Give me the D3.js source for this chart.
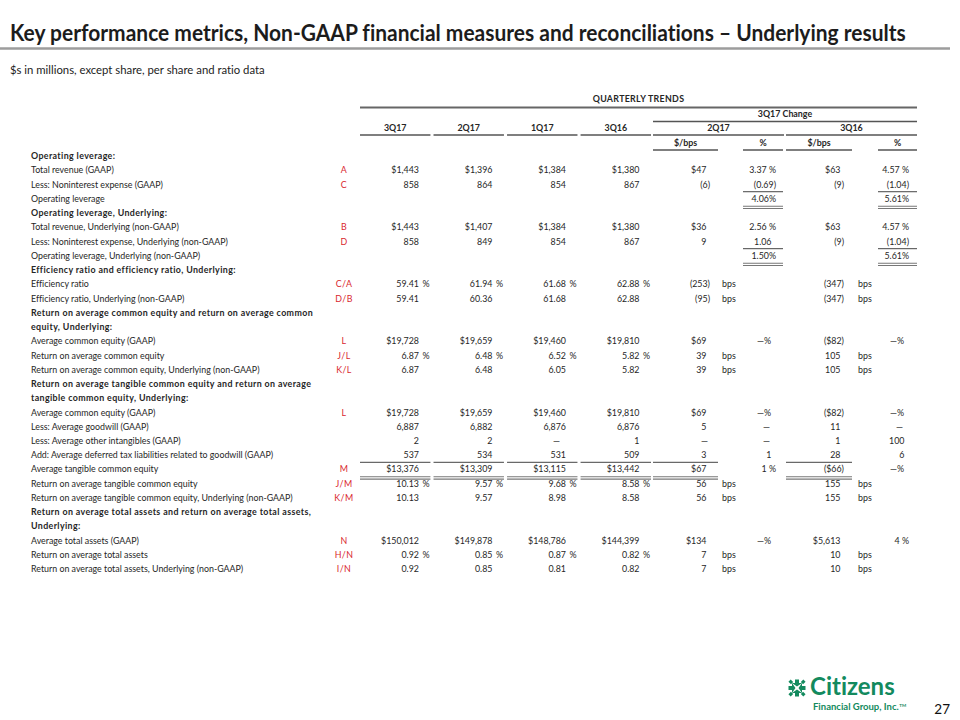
<!DOCTYPE html>
<html><head><meta charset="utf-8">
<script src="https://cdn.jsdelivr.net/npm/d3@7"></script>
<style>html,body{margin:0;padding:0;background:#fff;} svg{display:block} text{font-variant-ligatures:none;font-feature-settings:"liga" 0,"clig" 0;}</style>
</head><body>
<svg id="c" width="960" height="720"></svg>
<script>
// ---------------- DATA ----------------
const titleText = "Key performance metrics, Non-GAAP financial measures and reconciliations \u2013 Underlying results";
const subtitleText = "$s in millions, except share, per share and ratio data";
const quarterHeaders = ["3Q17","2Q17","1Q17","3Q16"];
const changeHeaders = ["2Q17","3Q16"];
const subHeaders = ["$/bps","%","$/bps","%"];

const rowLabels = [
"Operating leverage:",
"Total revenue (GAAP)",
"Less: Noninterest expense (GAAP)",
"Operating leverage",
"Operating leverage, Underlying:",
"Total revenue, Underlying (non-GAAP)",
"Less: Noninterest expense, Underlying (non-GAAP)",
"Operating leverage, Underlying (non-GAAP)",
"Efficiency ratio and efficiency ratio, Underlying:",
"Efficiency ratio",
"Efficiency ratio, Underlying (non-GAAP)",
"Return on average common equity and return on average common",
"equity, Underlying:",
"Average common equity (GAAP)",
"Return on average common equity",
"Return on average common equity, Underlying (non-GAAP)",
"Return on average tangible common equity and return on average",
"tangible common equity, Underlying:",
"Average common equity (GAAP)",
"Less: Average goodwill (GAAP)",
"Less: Average other intangibles (GAAP)",
"Add: Average deferred tax liabilities related to goodwill (GAAP)",
"Average tangible common equity",
"Return on average tangible common equity",
"Return on average tangible common equity, Underlying (non-GAAP)",
"Return on average total assets and return on average total assets,",
"Underlying:",
"Average total assets (GAAP)",
"Return on average total assets",
"Return on average total assets, Underlying (non-GAAP)"];
const sectionHeader = [1,0,0,0,1,0,0,0,1,0,0,1,1,0,0,0,1,1,0,0,0,0,0,0,0,1,1,0,0,0];
const rowRefs = ["","A","C","","","B","D","","","C/A","D/B","","","L","J/L","K/L","","","L","","","","M","J/M","K/M","","","N","H/N","I/N"];

const q3_17 = ["","$1,443","858","","","$1,443","858","","","59.41 %","59.41","","","$19,728","6.87 %","6.87","","","$19,728","6,887","2","537","$13,376","10.13 %","10.13","","","$150,012","0.92 %","0.92"];
const q2_17 = ["","$1,396","864","","","$1,407","849","","","61.94 %","60.36","","","$19,659","6.48 %","6.48","","","$19,659","6,882","2","534","$13,309","9.57 %","9.57","","","$149,878","0.85 %","0.85"];
const q1_17 = ["","$1,384","854","","","$1,384","854","","","61.68 %","61.68","","","$19,460","6.52 %","6.05","","","$19,460","6,876","\u2014","531","$13,115","9.68 %","8.98","","","$148,786","0.87 %","0.81"];
const q3_16 = ["","$1,380","867","","","$1,380","867","","","62.88 %","62.88","","","$19,810","5.82 %","5.82","","","$19,810","6,876","1","509","$13,442","8.58 %","8.58","","","$144,399","0.82 %","0.82"];
const chgVs2Q17 = ["","$47","(6)","","","$36","9","","","(253)","(95)","","","$69","39","39","","","$69","5","\u2014","3","$67","56","56","","","$134","7","7"];
const chgVs2Q17Pct = ["","3.37 %","(0.69)","4.06%","","2.56 %","1.06","1.50%","","","","","","\u2014%","","","","","\u2014%","\u2014","\u2014","1","1 %","","","","","\u2014%","",""];
const chgVs3Q16 = ["","$63","(9)","","","$63","(9)","","","(347)","(347)","","","($82)","105","105","","","($82)","11","1","28","($66)","155","155","","","$5,613","10","10"];
const chgVs3Q16Pct = ["","4.57 %","(1.04)","5.61%","","4.57 %","(1.04)","5.61%","","","","","","\u2014%","","","","","\u2014%","\u2014","100","6","\u2014%","","","","","4 %","",""];
const bpsRows = [0,0,0,0,0,0,0,0,0,1,1,0,0,0,1,1,0,0,0,0,0,0,0,1,1,0,0,0,1,1];

// ---------------- SETUP ----------------
const svg = d3.select("#c");
const FONT = "Lato, 'Liberation Sans', Arial, sans-serif";
const INK = "#262626", RED = "#d9262e", GREEN = "#138a5e", RULE = "#555";

function measure(str, size, weight){
  const t = svg.append("text").attr("font-family",FONT).attr("font-size",size).attr("font-weight",weight).text(str);
  const w = t.node().getComputedTextLength(); t.remove(); return w;
}
// text squeezed horizontally to a target width (keeps glyph height)
function fitText(str, x, yy, size, weight, width, fill){
  const w = measure(str, size, weight);
  const k = Math.min(1, width / w);
  return svg.append("text").attr("transform",`translate(${x},${yy}) scale(${k},1)`)
    .attr("font-family",FONT).attr("font-size",size).attr("font-weight",weight).attr("fill",fill).text(str);
}
let BODY = 9 * 262 / measure("Return on average tangible common equity, Underlying (non-GAAP)", 9, 400);
BODY = Math.max(7.8, Math.min(10, BODY));
const bw = measure("Return on average common equity and return on average common", BODY, 700);
const LS = Math.max(0, (282 - bw) / 60);

// Title
fitText(titleText, 10, 41, 23, 700, 896, "#1c1c1c");
svg.append("line").attr("x1",0).attr("x2",950).attr("y1",48.5).attr("y2",48.5).attr("stroke","#9d9d9d").attr("stroke-width",2.5);
fitText(subtitleText, 10, 74, 11.5, 400, 255, "#1c1c1c");

// ---------------- SCALES ----------------
const y = d3.scalePoint().domain(d3.range(rowLabels.length)).range([156, 569]);
const qx = d3.scaleBand().domain(quarterHeaders).range([360, 651]).paddingInner(0.042);
const chgGroup = d3.scaleOrdinal().domain(changeHeaders).range([[653,784],[786,917]]);
const subCols = ["d2","p2","d3","p3"];
const subExtent = d3.scaleOrdinal().domain(subCols).range([[653,718],[743,783],[786,852],[878,917]]);
const valueEdge = d3.scaleOrdinal().domain(["q3_17","q2_17","q1_17","q3_16","d2","p2","d3","p3"])
  .range([qx("3Q17")+qx.bandwidth()-11.5, qx("2Q17")+qx.bandwidth()-11.5, qx("1Q17")+qx.bandwidth()-11.5, qx("3Q16")+qx.bandwidth()-11.5, 710, 776, 844, 909]);
const bpsX = d3.scaleOrdinal().domain(["d2","d3"]).range([722, 858]);

// ---------------- HEADER ----------------
const H = svg.append("g").attr("font-family",FONT).attr("font-weight",700).attr("font-size",BODY).attr("fill",INK).attr("text-anchor","middle");
H.append("text").attr("x",(360+917)/2).attr("y",99).attr("dy","0.36em").attr("letter-spacing",0.3).text("QUARTERLY TRENDS");
function hline(x1,x2,yy,w,c){ svg.append("line").attr("x1",x1).attr("x2",x2).attr("y1",yy).attr("y2",yy).attr("stroke",c||RULE).attr("stroke-width",w||1.3); }
hline(360,917,107.5,1.8,"#666");
H.append("text").attr("x",(653+917)/2).attr("y",114).attr("dy","0.36em").text("3Q17 Change");
hline(653,917,121.5,1.3);
quarterHeaders.forEach(q=>{
  H.append("text").attr("x",qx(q)+qx.bandwidth()/2).attr("y",127.5).attr("dy","0.36em").text(q);
  hline(qx(q), qx(q)+qx.bandwidth(), 135, 1.3);
});
changeHeaders.forEach(c=>{
  const e = chgGroup(c);
  H.append("text").attr("x",(e[0]+e[1])/2).attr("y",127.5).attr("dy","0.36em").text(c);
  hline(e[0], e[1], 135, 1.3);
});
subCols.forEach((k,i)=>{
  const e = subExtent(k);
  H.append("text").attr("x",(e[0]+e[1])/2).attr("y",142.5).attr("dy","0.36em").text(subHeaders[i]);
  hline(e[0], e[1], 150, 1.3);
});

// ---------------- BODY ----------------
const B = svg.append("g").attr("font-family",FONT).attr("font-size",BODY).attr("fill",INK);
rowLabels.forEach((lab,i)=>{
  const t = B.append("text").attr("x",31).attr("y",y(i)).attr("dy","0.36em").text(lab);
  if (sectionHeader[i]) t.attr("font-weight",700).attr("letter-spacing",LS);
  if (rowRefs[i]) B.append("text").attr("x",344).attr("y",y(i)).attr("dy","0.36em").attr("text-anchor","middle")
      .attr("fill",RED).attr("letter-spacing",0.4).text(rowRefs[i]);
});

function put(str, x, yy, anchor){
  B.append("text").attr("x",x).attr("y",yy).attr("dy","0.36em").attr("text-anchor",anchor||"end").text(str);
}
function qCell(str, key, i){
  if (!str) return;
  const e = valueEdge(key), yy = y(i);
  if (str.endsWith(" %")) { put(str.slice(0,-2), e, yy); put("%", e+3.5, yy, "start"); }
  else if (str === "\u2014") put(str, e-6, yy);
  else put(str, e, yy);
}
function amtCell(str, key, i){
  if (!str) return;
  const e = valueEdge(key), yy = y(i);
  if (str.endsWith(")")) put(str, e, yy);
  else if (str === "\u2014") put(str, e-2, yy);
  else put(str, e-3.5, yy);
  if (bpsRows[i]) put("bps", bpsX(key), yy, "start");
}
function pctCell(str, key, i){
  if (!str) return;
  const e = valueEdge(key), yy = y(i);
  if (str === "\u2014%") put(str, e-5, yy);
  else if (str === "\u2014") put(str, e-6, yy);
  else if (str.endsWith(")") || str.endsWith("%")) put(str, e, yy);
  else put(str, e-4.5, yy);
}
rowLabels.forEach((_,i)=>{
  qCell(q3_17[i],"q3_17",i); qCell(q2_17[i],"q2_17",i); qCell(q1_17[i],"q1_17",i); qCell(q3_16[i],"q3_16",i);
  amtCell(chgVs2Q17[i],"d2",i); pctCell(chgVs2Q17Pct[i],"p2",i);
  amtCell(chgVs3Q16[i],"d3",i); pctCell(chgVs3Q16Pct[i],"p3",i);
});

// Total rules: single above, double below
function totalRules(i, extents){
  extents.forEach(e=>{
    hline(e[0], e[1], y(i)-7, 1, "#444");
    hline(e[0], e[1], y(i)+7.5, 1.1, "#777");
    hline(e[0], e[1], y(i)+9.8, 1.1, "#777");
  });
}
[3,7].forEach(i=> totalRules(i, [subExtent("p2"), subExtent("p3")]));
totalRules(22, quarterHeaders.map(q=>[qx(q), qx(q)+qx.bandwidth()]).concat([subExtent("d2"), subExtent("d3")]));

// ---------------- LOGO & PAGE ----------------
const L = svg.append("g").attr("fill",GREEN).attr("transform","translate(797,688)");
[0,90,180,270].forEach(a=>{
  L.append("path").attr("transform",`rotate(${a})`).attr("d","M-2,-8.5 L2,-8.5 L2,-5 L5,-5 L0,-1.5 L-5,-5 L-2,-5 Z");
});
[45,135,225,315].forEach(a=>{
  L.append("path").attr("transform",`rotate(${a})`).attr("d","M-1.6,-10.5 L1.6,-10.5 L1.6,-7 L-1.6,-7 Z");
});
fitText("Citizens", 810, 695, 24, 700, 87, GREEN);
const fg = svg.append("text").attr("x",813).attr("y",710).attr("font-family",FONT).attr("font-weight",700).attr("font-size",9.5)
  .attr("fill",GREEN);
fg.append("tspan").text("Financial Group, Inc.");
fg.append("tspan").attr("font-size",4.5).attr("dy",-3.5).attr("dx",0.5).text("TM");
svg.append("text").attr("x",950).attr("y",714).attr("text-anchor","end").attr("font-family",FONT).attr("font-size",13.5)
  .attr("fill","#111").text("27");
</script>
</body></html>
